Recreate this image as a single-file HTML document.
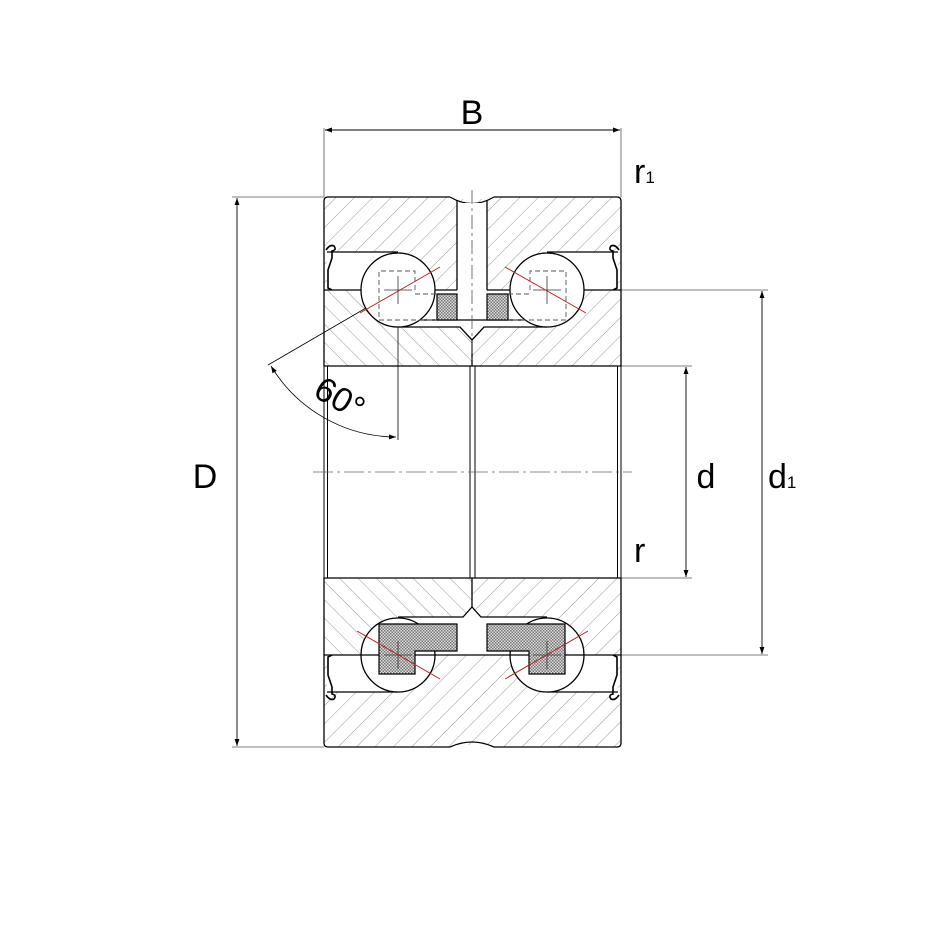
<!DOCTYPE html>
<html><head><meta charset="utf-8"><style>
html,body{margin:0;padding:0;background:#fff}
svg{display:block}
text{font-family:"Liberation Sans","DejaVu Sans",sans-serif;fill:#000}
</style></head><body>
<svg width="946" height="946" viewBox="0 0 946 946" xmlns="http://www.w3.org/2000/svg">
<defs>
<pattern id="hA" patternUnits="userSpaceOnUse" width="13" height="13" patternTransform="rotate(45)">
<line x1="0" y1="0" x2="0" y2="13" stroke="#999" stroke-width="1"/></pattern>
<pattern id="hB" patternUnits="userSpaceOnUse" width="13" height="13" patternTransform="rotate(-45)">
<line x1="0" y1="0" x2="0" y2="13" stroke="#999" stroke-width="1"/></pattern>
<pattern id="cg" patternUnits="userSpaceOnUse" width="3" height="3">
<rect width="3" height="3" fill="#ddd"/><rect width="1.5" height="1.5" fill="#777"/><rect x="1.5" y="1.5" width="1.5" height="1.5" fill="#777"/></pattern>
<marker id="ar" viewBox="0 0 10 10" refX="10" refY="5" markerWidth="14" markerHeight="7" orient="auto-start-reverse" markerUnits="userSpaceOnUse"><path d="M0,1.5 L10,5 L0,8.5 z" fill="#000"/></marker>
</defs>

<g stroke="#555" stroke-width="0.8" fill="none">
<line x1="324" y1="128" x2="324" y2="197"/>
<line x1="621" y1="128" x2="621" y2="197"/>
<line x1="232" y1="197" x2="324" y2="197"/>
<line x1="232" y1="747" x2="324" y2="747"/>
<line x1="621" y1="290" x2="768" y2="290"/>
<line x1="621" y1="655" x2="768" y2="655"/>
<line x1="621" y1="366" x2="692" y2="366"/>
<line x1="621" y1="578" x2="692" y2="578"/>
</g>
<g stroke="#000" stroke-width="0.9" fill="none">
<line x1="325" y1="130" x2="620" y2="130" marker-start="url(#ar)" marker-end="url(#ar)"/>
<line x1="237" y1="198" x2="237" y2="746" marker-start="url(#ar)" marker-end="url(#ar)"/>
<line x1="686" y1="367" x2="686" y2="577" marker-start="url(#ar)" marker-end="url(#ar)"/>
<line x1="762" y1="291" x2="762" y2="654" marker-start="url(#ar)" marker-end="url(#ar)"/>
</g>

<!-- top half -->
<rect x="324" y="197" width="148" height="93" fill="url(#hA)"/>
<rect x="472" y="197" width="149" height="93" fill="url(#hA)"/>
<rect x="324" y="290" width="148" height="76" fill="url(#hB)"/>
<rect x="472" y="290" width="149" height="76" fill="url(#hA)"/>
<rect x="450" y="190" width="44" height="9" fill="#fff"/>
<path d="M450,197 Q472,210 494,197" fill="none" stroke="#000" stroke-width="1.3"/>
<rect x="457" y="203" width="30" height="87" fill="#fff"/>
<rect x="327" y="252" width="72" height="38" fill="#fff"/>
<rect x="547" y="252" width="71" height="38" fill="#fff"/>
<polygon points="398,290 547,290 547,327 484,327 472,340 460,327 398,327" fill="#fff"/>
<g fill="none" stroke="#000" stroke-width="1.3">
<path d="M450,197 H328 Q324,197 324,201 V366 H621 V201 Q621,197 617,197 H494"/>
<line x1="457" y1="200" x2="457" y2="290"/>
<line x1="487" y1="200" x2="487" y2="290"/>
<line x1="327" y1="252" x2="398" y2="252"/>
<line x1="547" y1="252" x2="618" y2="252"/>
<line x1="324" y1="290" x2="398" y2="290"/>
<line x1="547" y1="290" x2="621" y2="290"/>
<line x1="398" y1="290" x2="457" y2="290"/>
<line x1="487" y1="290" x2="547" y2="290"/>
<polyline points="398,327 460,327 472,340 484,327 547,327"/>
<line x1="398" y1="320" x2="547" y2="320"/>
<line x1="472" y1="340" x2="472" y2="366"/>
</g>
<line x1="472" y1="190" x2="472" y2="360" stroke="#555" stroke-width="0.8" stroke-dasharray="14,4,3,4"/>
<circle cx="398" cy="290" r="37" fill="#fff" stroke="#000" stroke-width="1.3"/>
<circle cx="547" cy="290" r="37" fill="#fff" stroke="#000" stroke-width="1.3"/>
<g fill="none" stroke="#555" stroke-width="0.9" stroke-dasharray="5,3">
<polyline points="415,290 415,271 379,271 379,320 457,320"/>
<polyline points="530,290 530,271 566,271 566,320 487,320"/>
<line x1="415" y1="294" x2="437" y2="294"/>
<line x1="508" y1="294" x2="530" y2="294"/>
</g>
<rect x="437" y="294" width="20" height="26" fill="url(#cg)" stroke="#000" stroke-width="1.2"/>
<rect x="487" y="294" width="21" height="26" fill="url(#cg)" stroke="#000" stroke-width="1.2"/>
<g stroke="#333" stroke-width="0.8">
<line x1="384" y1="290" x2="412" y2="290"/><line x1="398" y1="276" x2="398" y2="304"/>
<line x1="533" y1="290" x2="561" y2="290"/><line x1="547" y1="276" x2="547" y2="304"/>
</g>
<g stroke="#b22" stroke-width="1">
<line x1="440" y1="267" x2="360" y2="313"/>
<line x1="505" y1="267" x2="586" y2="313"/>
</g>
<g fill="none" stroke="#000" stroke-width="1.6">
<path d="M326,250 Q330,244 334,246 Q337,250 332,251 V258 L328,270 V288 L332,290"/>
<path d="M619,250 Q615,244 611,246 Q608,250 613,251 V258 L617,270 V288 L613,290"/>
</g>

<!-- bore -->
<g fill="none" stroke="#000" stroke-width="1">
<line x1="324" y1="366" x2="324" y2="578"/><line x1="327.5" y1="366" x2="327.5" y2="578"/>
<line x1="470" y1="366" x2="470" y2="578"/><line x1="475" y1="366" x2="475" y2="578"/>
<line x1="617.5" y1="366" x2="617.5" y2="578"/><line x1="621" y1="366" x2="621" y2="578"/>
</g>
<line x1="313" y1="472" x2="632" y2="472" stroke="#666" stroke-width="0.8" stroke-dasharray="20,4,3,4"/>

<!-- bottom half -->
<rect x="324" y="578" width="148" height="77" fill="url(#hB)"/>
<rect x="472" y="578" width="149" height="77" fill="url(#hA)"/>
<rect x="324" y="655" width="297" height="92" fill="url(#hA)"/>
<rect x="327" y="655" width="72" height="37" fill="#fff"/>
<rect x="547" y="655" width="71" height="37" fill="#fff"/>
<polygon points="398,655 398,617 463,617 472,607 481,617 547,617 547,655" fill="#fff"/>
<rect x="450" y="745" width="44" height="6" fill="#fff"/>
<g fill="none" stroke="#000" stroke-width="1.3">
<path d="M450,747 H328 Q324,747 324,743 V578 H621 V743 Q621,747 617,747 H494"/>
<path d="M450,747 Q472,737 494,747"/>
<line x1="472" y1="578" x2="472" y2="607"/>
<polyline points="398,617 463,617 472,607 481,617 547,617"/>
<line x1="324" y1="655" x2="398" y2="655"/><line x1="547" y1="655" x2="621" y2="655"/>
<line x1="398" y1="655" x2="547" y2="655"/>
<line x1="327" y1="692" x2="398" y2="692"/><line x1="547" y1="692" x2="618" y2="692"/>
</g>
<circle cx="398" cy="655" r="37" fill="#fff" stroke="#000" stroke-width="1.3"/>
<circle cx="547" cy="655" r="37" fill="#fff" stroke="#000" stroke-width="1.3"/>
<path d="M361,655 H435 M510,655 H584" stroke="#000" stroke-width="1.3"/>
<polygon points="379,624 457,624 457,651 415,651 415,674 379,674" fill="url(#cg)" stroke="#000" stroke-width="1.2"/>
<polygon points="565,624 487,624 487,651 529,651 529,674 565,674" fill="url(#cg)" stroke="#000" stroke-width="1.2"/>
<g stroke="#333" stroke-width="0.8">
<line x1="384" y1="655" x2="412" y2="655"/><line x1="398" y1="641" x2="398" y2="669"/>
<line x1="533" y1="655" x2="561" y2="655"/><line x1="547" y1="641" x2="547" y2="669"/>
</g>
<g stroke="#b22" stroke-width="1">
<line x1="357" y1="631" x2="440" y2="679"/>
<line x1="588" y1="631" x2="505" y2="679"/>
</g>
<g fill="none" stroke="#000" stroke-width="1.6">
<path d="M326,695 Q330,701 334,699 Q337,695 332,694 V687 L328,675 V657 L332,655"/>
<path d="M619,695 Q615,701 611,699 Q608,695 613,694 V687 L617,675 V657 L613,655"/>
</g>

<!-- 60 deg -->
<g stroke="#000" stroke-width="0.8" fill="none">
<line x1="366" y1="308" x2="268" y2="365"/>
<line x1="398" y1="327" x2="398" y2="440"/>
<path d="M271,366 A147,147 0 0 0 396,437" marker-start="url(#ar)" marker-end="url(#ar)"/>
</g>
<text x="340" y="410" font-size="34" text-anchor="middle" transform="rotate(30 340 398)">60°</text>

<text x="472" y="124" font-size="34" text-anchor="middle">B</text>
<text x="205" y="488" font-size="34" text-anchor="middle">D</text>
<text x="706" y="488" font-size="34" text-anchor="middle">d</text>
<text x="768" y="488" font-size="34">d<tspan font-size="17">1</tspan></text>
<text x="634" y="183" font-size="34">r<tspan font-size="17">1</tspan></text>
<text x="634" y="562" font-size="34">r</text>
</svg>
</body></html>
